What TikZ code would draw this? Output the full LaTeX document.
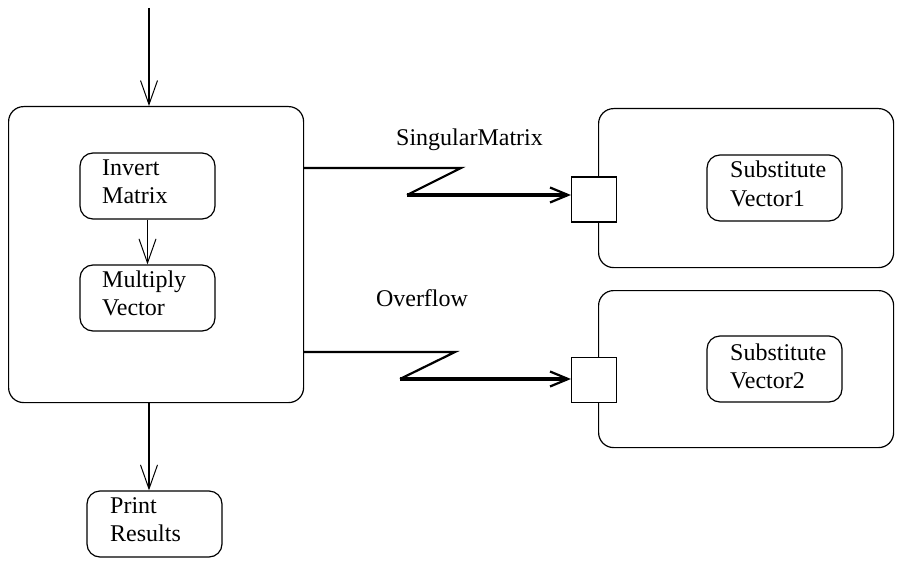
\documentclass[tikz,border=0pt]{standalone}
\usepackage{fontspec}
\setmainfont{Liberation Serif}
\newfontfamily\tnr{Liberation Serif}
\usetikzlibrary{arrows.meta}
\begin{document}
\begin{tikzpicture}[x=1pt,y=-1pt,
  box/.style={draw,line width=1.2pt,rounded corners=15pt},
  act/.style={draw,line width=1.2pt,rounded corners=13pt,minimum width=135pt,minimum height=66pt,inner sep=0pt},
  port/.style={draw,fill=white,line width=1.2pt,minimum size=45pt,inner sep=0pt},
  flow/.style={line width=1.2pt,-{Straight Barb[length=24pt,width=17pt,line width=1pt]}},
  sig/.style={line width=2.2pt},
  sigarr/.style={line width=4pt,-{Straight Barb[length=18pt,width=15pt,line width=2.2pt]}},
  lbl/.style={font=\tnr\fontsize{24}{28}\selectfont,inner sep=0pt},
  txt/.style={lbl,anchor=base west}]
\useasboundingbox (0,0) rectangle (904,564);
% main box
\node[box,minimum width=295pt,minimum height=296pt,anchor=north west] (main) at (8,106) {};
\coordinate (top) at (149,8);
\draw[flow] (top) -- (main.north -| top);
\node[act] (inv) at (147.5,186) {};
\node[act] (mul) at (147.5,298) {};
\node[txt] (t1) at (102,175.5) {Invert};
\node[txt] (t2) at (102,203.5) {Matrix};
\node[txt] (t3) at (102,287.5) {Multiply};
\node[txt] (t4) at (102,315.5) {Vector};
\draw[flow] (inv.south) -- (mul.north);
\node[act] (prt) at (154.5,524) {};
\node[txt] (t5) at (110,513) {Print};
\node[txt] (t6) at (110,541) {Results};
\draw[flow] (main.south -| top) -- (prt.north -| top);
% right boxes
\node[box,minimum width=295pt,minimum height=159pt,anchor=north west] (r1) at (598,108) {};
\node[box,minimum width=295pt,minimum height=157pt,anchor=north west] (r2) at (598,290) {};
\node[port] (p1) at (594,199.5) {};
\node[port] (p2) at (594,380) {};
\node[act] (s1) at (774.5,188) {};
\node[act] (s2) at (774.5,369) {};
\node[txt] (t7) at (730,178) {Substitute};
\node[txt] (t8) at (730,206) {Vector1};
\node[txt] (t9) at (730,360) {Substitute};
\node[txt] (t10) at (730,388) {Vector2};
% signals
\coordinate (a1) at (461,168);
\coordinate (b1) at (407,195);
\draw[sig,line join=miter] (main.east |- a1) -- (a1) -- (b1);
\draw[sigarr] (b1) -- (b1 -| p1.west);
\node[lbl,anchor=base] (l1) at (469.5,146) {SingularMatrix};
\coordinate (a2) at (455,352);
\coordinate (b2) at (400,379);
\draw[sig,line join=miter] (main.east |- a2) -- (a2) -- (b2);
\draw[sigarr] (b2) -- (b2 -| p2.west);
\node[lbl,anchor=base] (l2) at (422,306.5) {Overflow};
\end{tikzpicture}
\end{document}
